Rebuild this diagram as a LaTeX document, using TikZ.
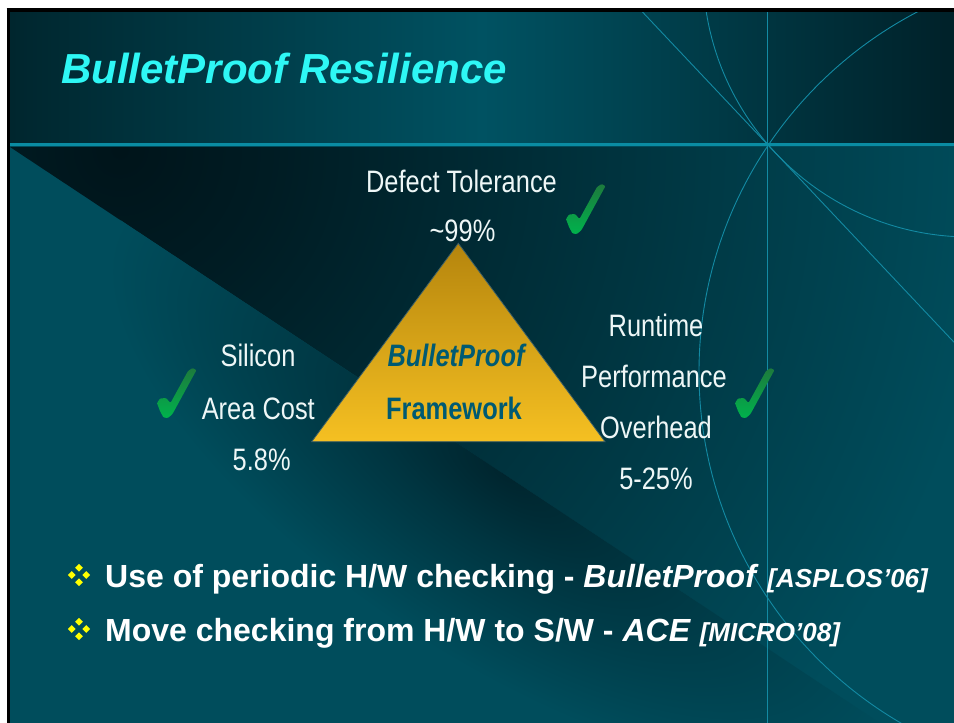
\documentclass[tikz,border=0pt]{standalone}
\usepackage{fontspec}
\setmainfont{Liberation Sans}
\usepackage{graphicx}

\definecolor{slidebase}{HTML}{004D5C}
\definecolor{bandedge}{HTML}{00262E}
\definecolor{bandmid}{HTML}{005262}
\definecolor{bandright}{HTML}{002129}
\definecolor{deepteal}{HTML}{00141A}
\definecolor{streak}{HTML}{00252E}
\definecolor{rulecol}{HTML}{0A8CA3}
\definecolor{arcline}{HTML}{138AA3}
\definecolor{titlecyan}{HTML}{2EF7F5}
\definecolor{labelwhite}{HTML}{EEF7F7}
\definecolor{goldtop}{HTML}{B5850D}
\definecolor{goldbot}{HTML}{F5C022}
\definecolor{goldedge}{HTML}{3D5F66}
\definecolor{frametext}{HTML}{005A72}
\definecolor{tickdark}{HTML}{1D7A3D}
\definecolor{tickbright}{HTML}{00B24C}
\definecolor{bulletyellow}{HTML}{FFFF00}

% dark glow spreading from the top-left corner of the lower panel
% (TikZ fits the central 50bp of a shading to the path, so 25bp is the rim)
\pgfdeclareradialshading{cornerdark}{\pgfpoint{0bp}{0bp}}{color(0bp)=(deepteal); color(4bp)=(deepteal!85!slidebase); color(22bp)=(slidebase); color(50bp)=(slidebase)}
% dark streak along the diagonal fold
\pgfdeclareradialshading{foldstreak}{\pgfpoint{0bp}{0bp}}{color(0bp)=(streak); color(9bp)=(streak!60!slidebase); color(25bp)=(slidebase); color(50bp)=(slidebase)}

\newcommand{\nrw}[1]{\scalebox{0.82}[1]{#1}}

\tikzset{
  greencheck/.pic={
    \shade[top color=tickdark, bottom color=tickbright, rounded corners=1pt]
      (0,35) -- (3,30.5) -- (9,30) -- (13.5,35) -- (31,3) -- (35.5,0) -- (39.5,2)
      -- (15.5,46) -- (11,50) -- (6.5,49.5) -- (3,43) -- cycle;
  },
  diamondbullet/.pic={
    \foreach \dx/\dy in {0/-7.2, -7.2/0, 7.2/0, 0/7.2}
      \fill[bulletyellow] (\dx,\dy-3.9) -- (\dx+3.9,\dy) -- (\dx,\dy+3.9) -- (\dx-3.9,\dy) -- cycle;
  }
}

\begin{document}
\begin{tikzpicture}[x=1pt,y=-1pt,
  lbl/.style={text=labelwhite, font=\fontsize{31}{31}\selectfont, inner sep=0pt, anchor=base},
  fwtext/.style={text=frametext, font=\fontsize{31}{31}\selectfont\bfseries, inner sep=0pt, anchor=base},
  bullettext/.style={text=white, font=\fontsize{32}{32}\selectfont\bfseries, inner sep=0pt, anchor=base west},
  decoline/.style={draw=arcline, line width=0.9pt},
]
\useasboundingbox (0,0) rectangle (954,723);
\fill[white] (0,0) rectangle (954,723);

\begin{scope}
  \clip (10,11.7) rectangle (954,723);
  % panels
  \fill[slidebase] (10,11.7) rectangle (954,723);
  \shade[left color=bandedge, right color=bandright, middle color=bandmid] (10,11.7) rectangle (954,145);
  % upper-right part of the lower panel
  \begin{scope}
    \clip (10,147) -- (954,147) -- (954,723) -- (880,723) -- cycle;
    \shade[shading=cornerdark] (120,150) circle (1000);
  \end{scope}
  % lower-left part of the lower panel
  \begin{scope}
    \clip (10,147) -- (880,723) -- (10,723) -- cycle;
    \begin{scope}[transform canvas={shift={(505,474)}, rotate=-33.4}]
      \shade[shading=foldstreak] (0,0) ellipse [x radius=460, y radius=185];
    \end{scope}
  \end{scope}
  % decorative rule, lines and arcs
  \coordinate (hub) at (767.7,144.7);
  \draw[decoline] (767.7,11.7) -- (hub) -- (767.7,723);
  \draw[decoline] (642.2,11.7) -- (hub) -- (954,342.2);
  \draw[decoline] (970,-30) circle (267);
  \draw[decoline] (1105,372) circle (406);
  \draw[draw=rulecol, line width=2.6pt] (10,144.7) -- (954,144.7);
\end{scope}

% slide frame
\draw[black, line width=3.3pt] (8.35,10) -- (8.35,730);
\draw[black, line width=3.3pt] (6.7,10) -- (960,10);

% title
\node[anchor=base west, inner sep=0pt, text=titlecyan,
      font=\fontsize{42}{42}\selectfont\bfseries\itshape] (title) at (61,83) {BulletProof Resilience};

% framework triangle
\coordinate (apex) at (458.3,243.3);
\coordinate (bleft) at (311.7,441.7);
\coordinate (bright) at (605,441.7);
\shadedraw[top color=goldtop, bottom color=goldbot, draw=goldedge, line width=0.8pt]
  (apex) -- (bright) -- (bleft) -- cycle;
\node[fwtext] (bp) at (456,366.7) {\nrw{\itshape BulletProof}};
\node[fwtext] (fw) at (454,419.3) {\nrw{Framework}};

% corner labels
\node[lbl] (defect) at (461.5,192) {\nrw{Defect Tolerance}};
\node[lbl] (defectval) at (462.5,241.7) {\nrw{\textasciitilde99\%}};
\node[lbl] (silicon) at (258,366.7) {\nrw{Silicon}};
\node[lbl] (area) at (258.3,419.3) {\nrw{Area Cost}};
\node[lbl] (areaval) at (261.7,470) {\nrw{5.8\%}};
\node[lbl] (runtime) at (656,336.4) {\nrw{Runtime}};
\node[lbl] (perf) at (654,387) {\nrw{Performance}};
\node[lbl] (over) at (656,438) {\nrw{Overhead}};
\node[lbl] (overval) at (656,489.4) {\nrw{5-25\%}};

% check marks
\pic at (566,184) {greencheck};
\pic at (157,368) {greencheck};
\pic at (735,368) {greencheck};

% bullet list
\pic at (79,575) {diamondbullet};
\pic at (79,629) {diamondbullet};
\node[bullettext] (b1) at (105,587) {Use of periodic H/W checking - \textit{BulletProof} {\fontsize{26}{26}\selectfont\itshape [ASPLOS’06]}};
\node[bullettext] (b2) at (105,641) {Move checking from H/W to S/W - \textit{ACE} {\fontsize{26}{26}\selectfont\itshape [MICRO’08]}};
\end{tikzpicture}
\end{document}
